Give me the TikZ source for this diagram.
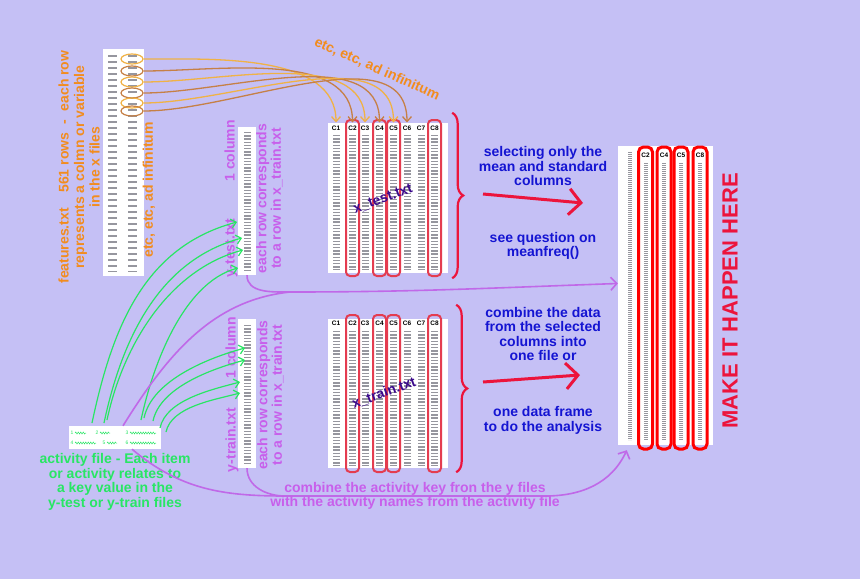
\documentclass[tikz,border=0pt]{standalone}
\usepackage{fontspec}
\setmainfont{Liberation Sans}
\usepackage{tikz}
\usetikzlibrary{arrows.meta,shapes.geometric,decorations.pathreplacing,decorations.pathmorphing,positioning}
\definecolor{bgpurple}{RGB}{197,192,245}
\definecolor{orangetxt}{RGB}{242,140,30}
\definecolor{orangelite}{RGB}{240,178,70}
\definecolor{orangedark}{RGB}{198,128,70}
\definecolor{purpletxt}{RGB}{200,95,235}
\definecolor{purpleline}{RGB}{192,105,232}
\definecolor{greentxt}{RGB}{40,230,100}
\definecolor{bluetxt}{RGB}{20,20,210}
\definecolor{redmark}{RGB}{236,20,60}
\definecolor{redbox}{RGB}{228,60,80}
\definecolor{darkpurple}{RGB}{60,10,140}
\definecolor{datagray}{RGB}{150,150,158}
\tikzset{
  datafile/.style={fill=white, draw=none, inner sep=0pt},
  colhead/.style={font=\fontsize{6.5}{7}\selectfont\bfseries, inner sep=0pt},
  selbox/.style={draw=redbox, line width=2pt, rounded corners=4pt},
  outbox/.style={draw=red, line width=3pt, rounded corners=5pt},
  squig/.style={draw=datagray, line width=7pt, dash pattern=on 1.4pt off 1.8pt},
  thinsquig/.style={draw=datagray, line width=4pt, dash pattern=on 0.8pt off 1.2pt},
  note/.style={font=\fontsize{14}{14.5}\selectfont\bfseries, align=center, inner sep=0pt},
  orangearrow/.style={line width=1.3pt, -{Straight Barb[length=5pt,width=9pt]}, shorten >=3pt},
  greenarrow/.style={draw=greentxt, line width=1.2pt, -{Straight Barb[length=5pt,width=9pt]}},
  purpline/.style={draw=purpleline, line width=1.6pt},
  purparrow/.style={purpline, -{Straight Barb[length=6pt,width=13pt]}},
  redarrow/.style={draw=redmark, line width=3pt, -{Straight Barb[length=12pt,width=26pt]}},
  redbrace/.style={draw=redmark, line width=2.2pt, decorate, decoration={brace, amplitude=11pt}}
}
\begin{document}
\begin{tikzpicture}[x=1pt, y=-1pt]

  \newcommand\squigcol[3]{\draw[squig] (#1,#2) -- (#1,#3);}
  \newcommand\thinsquigcol[3]{\draw[thinsquig] (#1,#2) -- (#1,#3);}

  \fill[bgpurple] (0,0) rectangle (860,579);
  \useasboundingbox (0,0) rectangle (860,579);

  %% features file
  \node[datafile, minimum width=41pt, minimum height=227pt] (features) at (123.5,162.5) {};
  \draw[draw=datagray, line width=9pt, dash pattern=on 1.5pt off 4.5pt] (112,55) -- (112,272);
  \draw[draw=datagray, line width=9pt, dash pattern=on 1.5pt off 4.5pt] (132,55) -- (132,272);
  \foreach \i/\yy/\col in {1/59/orangelite, 2/71/orangedark, 3/82/orangelite, 4/93/orangedark, 5/103/orangelite, 6/111/orangedark}
    \node[ellipse, draw=\col, line width=1.2pt, minimum width=22pt, minimum height=10pt, inner sep=0pt] (f\i) at (132,\yy) {};

  \node[note, text=orangetxt, rotate=90, font=\fontsize{14}{15.5}\selectfont\bfseries] (featlab) at (79,167)
    {features.txt\hspace{1.1em}561 rows\hspace{0.6em}-\hspace{0.6em}each row\\represents a colmn or variable\\in the x files};
  \node[note, text=orangetxt, rotate=90] (etcside) at (149,190) {etc, etc, ad infinitum};

  %% x_test and x_train files
  \node[datafile, minimum width=120pt, minimum height=150pt] (xtest) at (388,198) {};
  \node[datafile, minimum width=120pt, minimum height=149pt] (xtrain) at (388,393.5) {};
  \foreach \c/\xx in {1/336, 2/352.5, 3/365, 4/379.5, 5/393.5, 6/407, 7/421, 8/434.5} {
    \squigcol{\xx}{135}{270}
    \squigcol{\xx}{331}{466}
    \node[colhead] (th\c) at (\xx,128) {C\c};
    \node[colhead] (tr\c) at (\xx,323) {C\c};
  }
  \foreach \xx in {352.5, 379.5, 393.5, 434.5} {
    \draw[selbox] (\xx-6.5,120) rectangle (\xx+6.5,276);
    \draw[selbox] (\xx-6.5,315) rectangle (\xx+6.5,472);
  }
  \node[note, text=darkpurple, rotate=20] (xtestlab) at (383,199) {x\_test.txt};
  \node[note, text=darkpurple, rotate=20] (xtrainlab) at (384,393) {x\_train.txt};

  %% feature rows -> columns
  \foreach \i/\c/\col in {1/1/orangelite, 2/2/orangedark, 3/3/orangelite, 4/4/orangedark, 5/5/orangelite, 6/6/orangedark}
    \draw[orangearrow, draw=\col] (f\i.east) to[out=0, in=90, looseness=0.9] (th\c.north);
  \node[note, text=orangetxt, rotate=-24] (etctop) at (377,69) {etc, etc, ad infinitum};

  %% y files
  \node[datafile, minimum width=18pt, minimum height=148pt] (ytest) at (247,201) {};
  \node[datafile, minimum width=18pt, minimum height=149pt] (ytrain) at (247,393.5) {};
  \squigcol{247}{132}{272}
  \squigcol{247}{325}{465}
  \node[note, text=purpletxt, rotate=90] (ytestlab) at (231,198.5) {\makebox[157pt]{y-test.txt\hfill 1 column}};
  \node[note, text=purpletxt, rotate=90] (ytrainlab) at (232,394.5) {\makebox[155pt]{y-train.txt\hfill 1 column}};
  \node[note, text=purpletxt, rotate=90] (ytestrow) at (269.5,198.5) {each row corresponds\\to a row in x\_train.txt};
  \node[note, text=purpletxt, rotate=90] (ytrainrow) at (270.5,395) {each row corresponds\\to a row in x\_train.txt};

  %% activity file
  \node[datafile, minimum width=92pt, minimum height=23pt] (act) at (115,437.5) {};
  \foreach \n/\xx/\yy/\len in {1/72/433/11, 2/97/433/10, 3/127/433/26, 4/72/443/21, 5/104/443/10, 6/127/443/26} {
    \node[text=greentxt, font=\fontsize{5}{5}\selectfont, inner sep=0pt] (a\n) at (\xx,\yy) {\n};
    \draw[greentxt, line width=0.5pt, decorate, decoration={snake, amplitude=1pt, segment length=2.5pt}] (\xx+3,\yy) -- ++(\len,0);
  }
  \node[note, text=greentxt, below=4pt of act] (actlab)
    {activity file - Each item\\or activity relates to\\a key value in the\\y-test or y-train files};

  %% activity keys -> y files
  \foreach \k/\sx/\sy/\ex/\ey/\lo in {1/92/423/237/222/1.0, 2/104/423/242/238/0.95, 3/107/420/243/250/0.9, 4/141/420/238/268/0.8,
                                     5/144/418/245/348/0.8, 6/153/421/245/360/0.8, 7/160/428/240/382/0.8, 8/166/432/240/393/0.8} {
    \coordinate (gs\k) at (\sx,\sy);
    \coordinate (ge\k) at (\ex,\ey);
    \draw[greenarrow] (gs\k) to[out=78, in=195, looseness=\lo] (ge\k);
  }

  %% braces and red arrows
  \draw[redbrace] ([xshift=4pt,yshift=10pt]xtest.north east) -- ([xshift=4pt,yshift=-5pt]xtest.south east);
  \draw[redbrace] ([xshift=8pt,yshift=14pt]xtrain.north east) -- ([xshift=8pt,yshift=-4pt]xtrain.south east);
  \coordinate (selfrom) at (483,194);
  \coordinate (selto) at (583,203);
  \coordinate (combfrom) at (483,382);
  \coordinate (combto) at (580,375);
  \draw[redarrow] (selfrom) -- (selto);
  \draw[redarrow] (combfrom) -- (combto);

  \node[note, text=bluetxt] (selnote) at (543,166) {selecting only the\\mean and standard\\columns};
  \node[note, text=bluetxt] (qnote) at (543,246) {see question on\\meanfreq()};
  \node[note, text=bluetxt] (combnote) at (543,334) {combine the data\\from the selected\\columns into\\one file or};
  \node[note, text=bluetxt] (framenote) at (543,420.5) {one data frame\\to do the analysis};

  %% result file
  \node[datafile, minimum width=95pt, minimum height=299pt] (outfile) at (665.5,295.5) {};
  \thinsquigcol{630}{152}{440}
  \foreach \c/\xx in {2/645.5, 4/664, 5/681, 8/700} {
    \thinsquigcol{\xx}{163}{440}
    \draw[outbox] (\xx-7,147) rectangle (\xx+7,449);
    \node[colhead] (out\c) at (\xx,155) {C\c};
  }
  \node[text=redmark, rotate=90, font=\fontsize{22}{22}\selectfont\bfseries, inner sep=0pt] (make) at (730,301)
    {MAKE IT HAPPEN HERE};

  %% activity key / names joins
  \coordinate (tjoin) at (290,292);
  \coordinate (bjoin) at (285,496);
  \draw[purpline] (ytest.south) to[out=-90, in=180] (tjoin);
  \draw[purpline] ([xshift=8pt]act.north) .. controls (170,350) and (215,300) .. (tjoin);
  \draw[purparrow] (tjoin) to[out=0, in=182] ([yshift=12pt]outfile.west);
  \draw[purpline] ([xshift=17pt]act.south) to[out=-40, in=180] (bjoin);
  \draw[purpline] (ytrain.south) to[out=-90, in=180] (bjoin);
  \draw[purparrow] (bjoin) -- (545,496) to[out=0, in=-115] ([xshift=9pt,yshift=-5pt]outfile.south west);
  \node[note, text=purpletxt] (keynote) at (415,496)
    {combine the activity key fron the y files\\with the activity names from the activity file};

\end{tikzpicture}
\end{document}
